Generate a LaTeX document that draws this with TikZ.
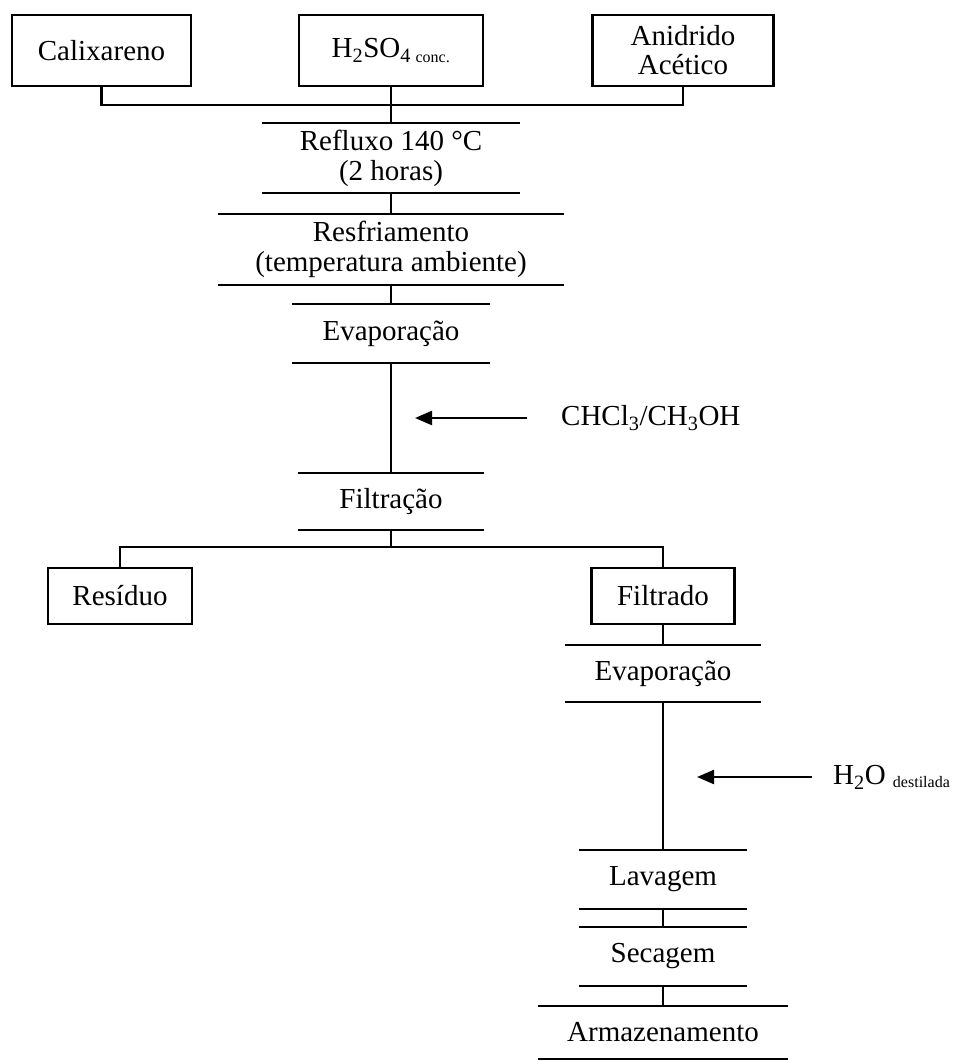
\documentclass[tikz,border=0pt]{standalone}
\usepackage{fontspec}
\setmainfont{Liberation Serif}
\usepackage{tikz}
\usetikzlibrary{arrows.meta}

\tikzset{
  linha/.style={line width=2.2pt},
  caixa/.style={draw, linha, minimum height=71pt, inner sep=0pt, align=center},
  etapa/.style={inner sep=0pt, align=center,
    append after command={(\tikzlastnode.north west) edge[linha] (\tikzlastnode.north east)
                          (\tikzlastnode.south west) edge[linha] (\tikzlastnode.south east)}},
  seta/.style={linha, -{Triangle[length=17pt,width=14pt]}},
  rotulo/.style={anchor=west, inner sep=0pt}
}
\newcommand{\pequeno}{\fontsize{16}{16}\selectfont}

\begin{document}
\begin{tikzpicture}[x=1pt, y=-1pt, font=\fontsize{29}{30}\selectfont]
\path[fill=white] (0,0) rectangle (953,1061);
\useasboundingbox (0,0) rectangle (953,1061);

% Reagentes
\node[caixa, minimum width=179pt] (calix) at (101.5,50.5) {Calixareno};
\node[caixa, minimum width=184pt] (acido) at (391,50.5) {H\textsubscript{2}SO\textsubscript{4 {\pequeno conc.}}};
\node[caixa, minimum width=181pt, font=\fontsize{29}{29}\selectfont] (anidrido) at (683,50.5) {Anidrido\\Acético};
\coordinate (mistura) at (391,105);

% Etapas
\node[etapa, minimum width=257pt, minimum height=70pt] (refluxo) at (391,158) {Refluxo 140 °C\\(2 horas)};
\node[etapa, minimum width=346pt, minimum height=71pt] (resfria) at (391,249.5) {Resfriamento\\(temperatura ambiente)};
\node[etapa, minimum width=197pt, minimum height=59pt] (evapA) at (391,333.5) {Evaporação};
\node[etapa, minimum width=185pt, minimum height=57pt] (filtra) at (391,501.5) {Filtração};
\coordinate (divide) at (391,547);

% Separacao
\node[caixa, minimum width=144pt, minimum height=56pt] (residuo) at (120,596) {Resíduo};
\node[caixa, minimum width=143pt, minimum height=56pt] (filtrado) at (663,596) {Filtrado};

\node[etapa, minimum width=195pt, minimum height=57pt] (evapB) at (663,673.5) {Evaporação};
\node[etapa, minimum width=168pt, minimum height=59pt] (lavagem) at (663,879.5) {Lavagem};
\node[etapa, minimum width=167pt, minimum height=59pt] (secagem) at (663,956.5) {Secagem};
\node[etapa, minimum width=250pt, minimum height=53pt] (armazena) at (663,1032.5) {Armazenamento};

% Adicoes
\node[rotulo] (solvente) at (561,418) {CHCl\textsubscript{3}/CH\textsubscript{3}OH};
\coordinate (entradaA) at (415,418);
\node[rotulo] (agua) at (833,777) {H\textsubscript{2}O \textsubscript{\pequeno destilada}};
\coordinate (entradaB) at (697,777);

% Ligacoes
\draw[linha] (calix.south) |- (mistura) -| (anidrido.south);
\draw[linha] (acido.south) -- (refluxo.north);
\draw[linha] (refluxo.south) -- (resfria.north);
\draw[linha] (resfria.south) -- (evapA.north);
\draw[linha] (evapA.south) -- (filtra.north);
\draw[linha] (filtra.south) -- (divide);
\draw[linha] (residuo.north) |- (divide) -| (filtrado.north);
\draw[linha] (filtrado.south) -- (evapB.north);
\draw[linha] (evapB.south) -- (lavagem.north);
\draw[linha] (lavagem.south) -- (secagem.north);
\draw[linha] (secagem.south) -- (armazena.north);

\draw[seta, shorten <=34pt] (solvente.west) -- (entradaA);
\draw[seta, shorten <=21pt] (agua.west) -- (entradaB);
\end{tikzpicture}
\end{document}
